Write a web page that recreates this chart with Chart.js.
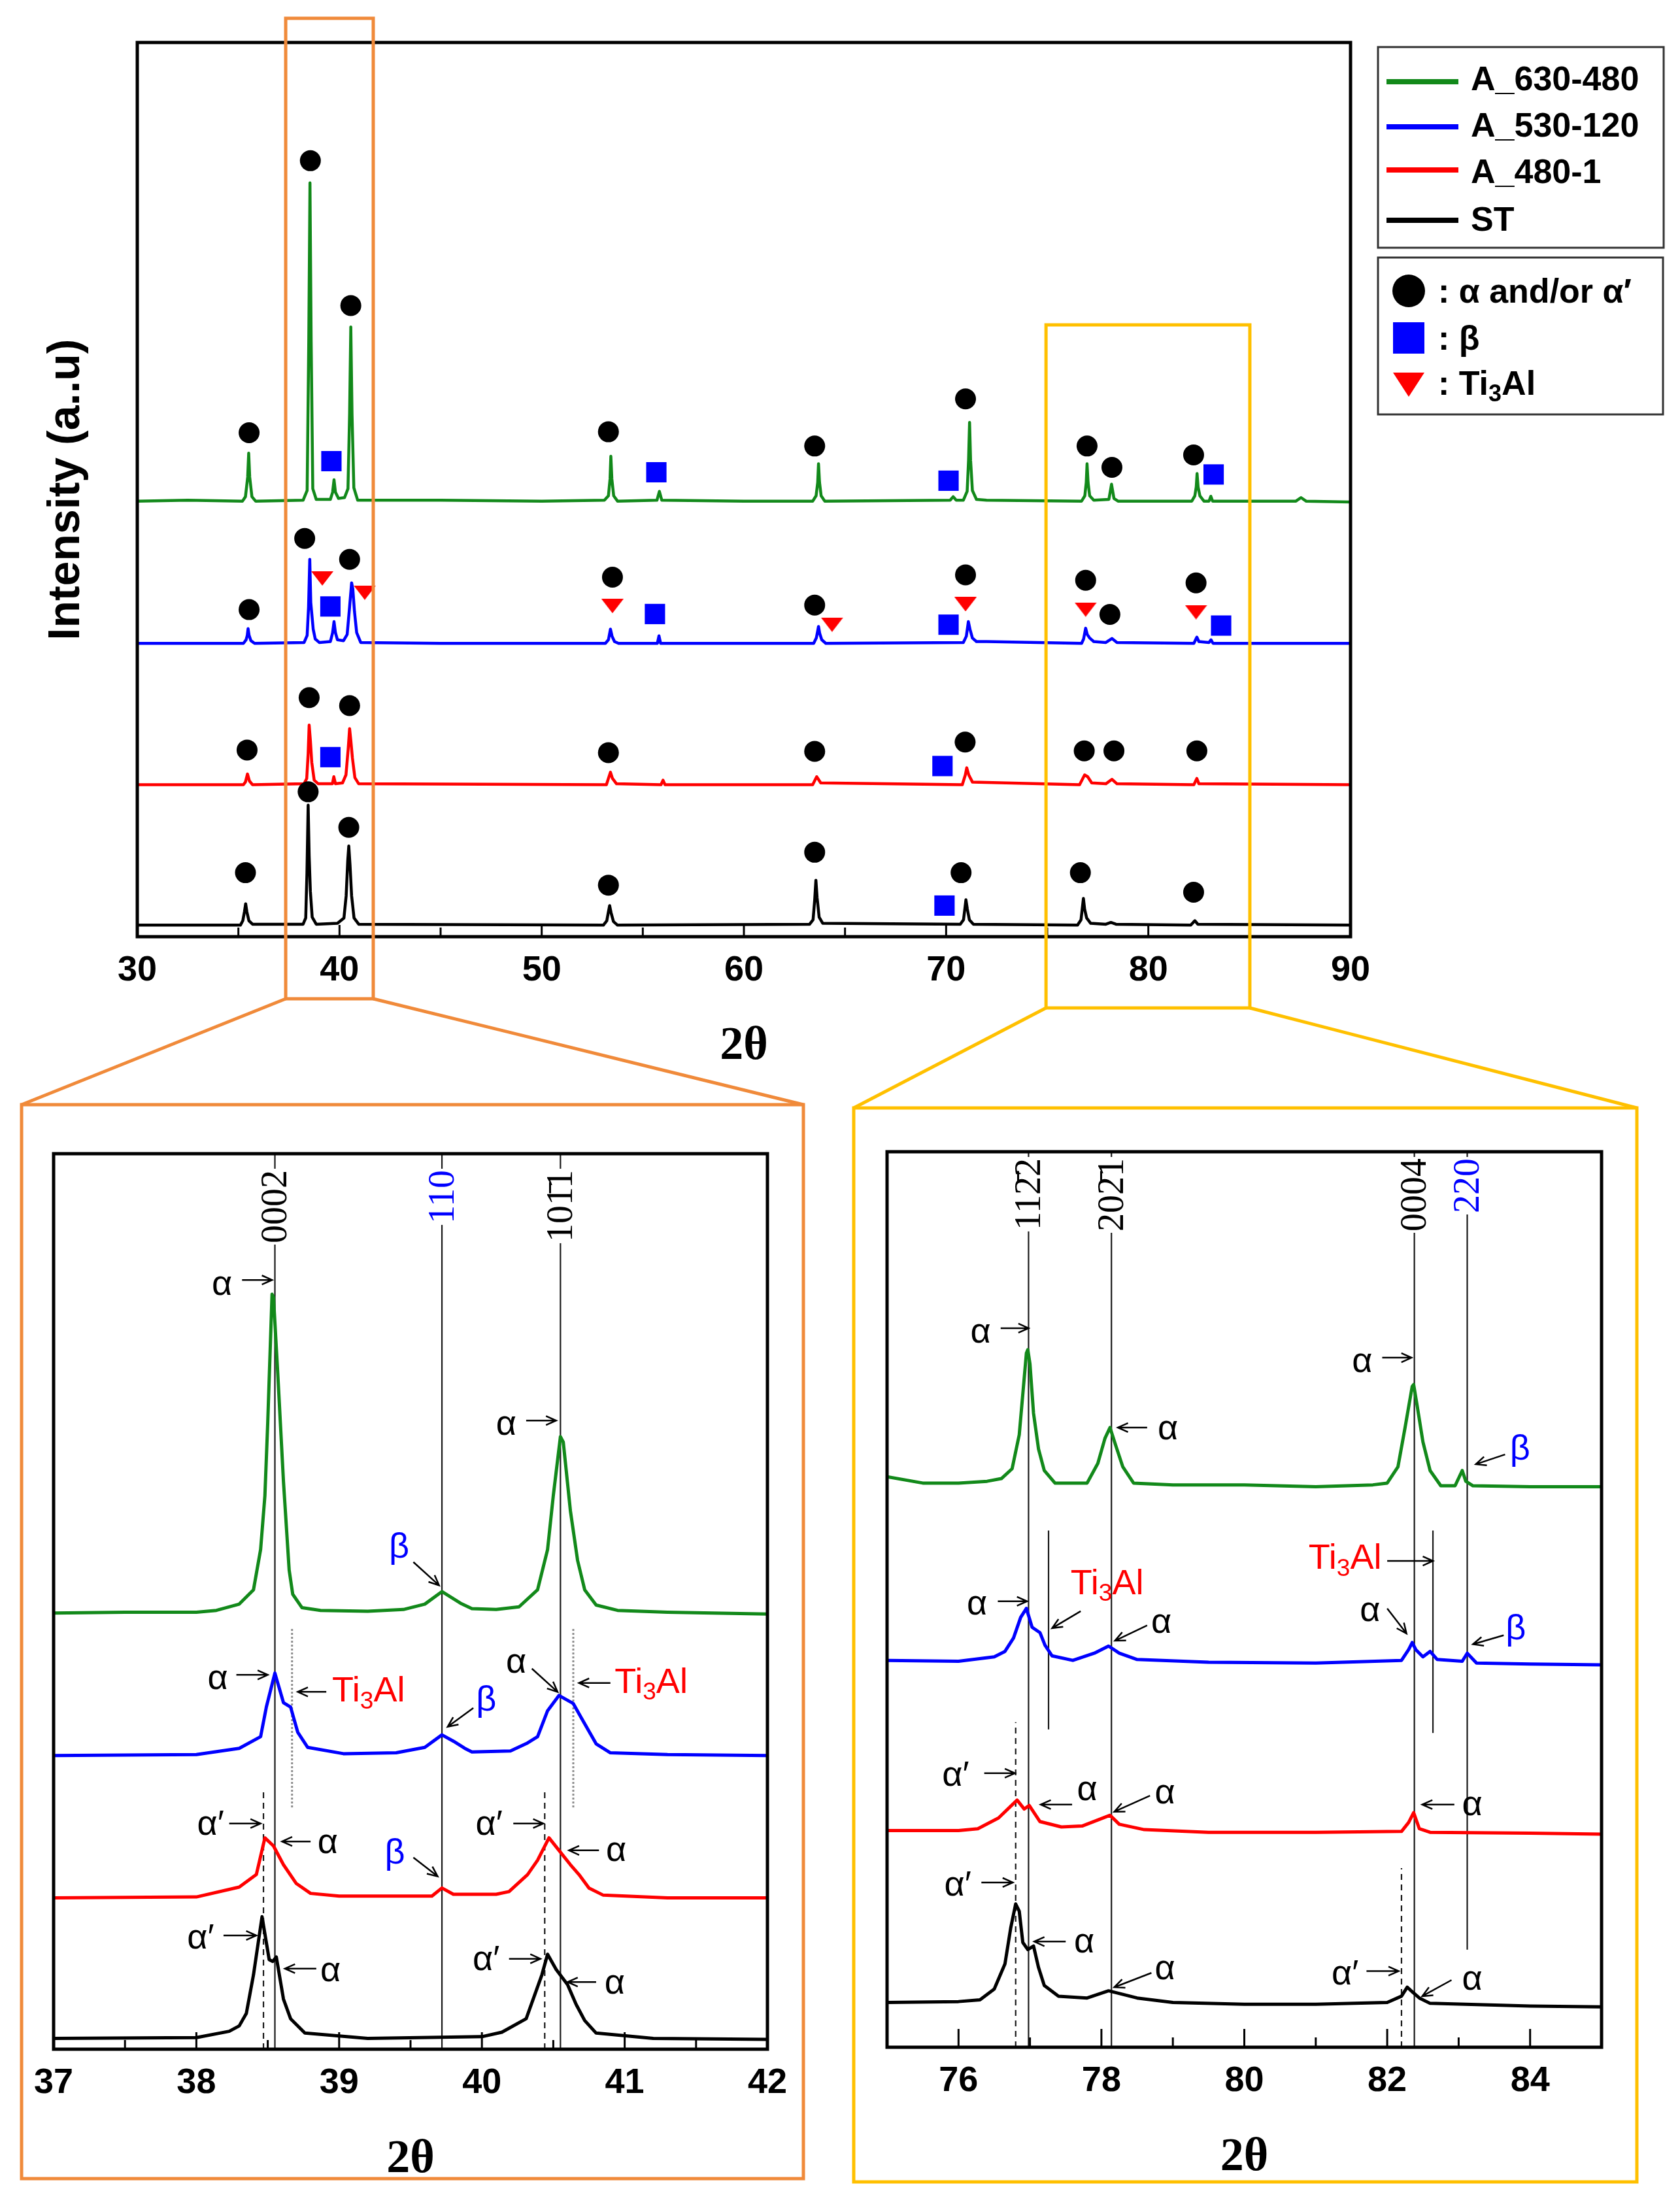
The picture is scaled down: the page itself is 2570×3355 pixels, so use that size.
<!DOCTYPE html>
<html>
<head>
<meta charset="utf-8">
<script src="https://cdn.jsdelivr.net/npm/chart.js"></script>
<style>
  body { margin: 0; background: #fff; }
  #fig { position: relative; width: 2570px; height: 3355px; overflow: hidden; background: #fff; }
  #fig canvas { position: absolute; }
  #overlay { position: absolute; left: 0; top: 0; pointer-events: none; }
  .lg { position: absolute; font: bold 52px "Liberation Sans", Arial, sans-serif; color: #000;
        line-height: 1; transform: translateY(-50%); white-space: nowrap; }
  .lg sub { font-size: 36px; vertical-align: -10px; }
</style>
</head>
<body>
<div id="fig">
  <canvas id="cMain" width="2100" height="1660" style="left:0px;top:0px"></canvas>
  <canvas id="cLeft" width="1250" height="1650" style="left:0px;top:1700px"></canvas>
  <canvas id="cRight" width="1250" height="1650" style="left:1290px;top:1700px"></canvas>
  <svg id="overlay" width="2570" height="3355"></svg>
  <div class="lg" style="left:2250px;top:120px">A_630-480</div>
  <div class="lg" style="left:2250px;top:191px">A_530-120</div>
  <div class="lg" style="left:2250px;top:262px">A_480-1</div>
  <div class="lg" style="left:2250px;top:335px">ST</div>
  <div class="lg" style="left:2200px;top:445px">: α and/or α′</div>
  <div class="lg" style="left:2200px;top:517px">: β</div>
  <div class="lg" style="left:2200px;top:590px">: Ti<sub>3</sub>Al</div>
</div>
<script>
// ---------- data ----------
// survey scan 30-90 deg, offsets already included
const mainGreen = [[30,48.4],[32.5,48.5],[35.2,48.4],
  [35.35,48.9],[35.46,51.1],[35.51,53.8],[35.56,51.1],[35.67,48.9],[35.85,48.4],
  [38.2,48.5],[38.4,49.6],[38.48,66.3],[38.54,84.2],[38.6,66.3],[38.68,49.8],[38.85,48.6],
  [39.55,48.6],[39.66,49.4],[39.73,50.8],[39.8,49.4],[39.95,48.7],
  [40.25,48.8],[40.42,49.8],[40.5,58.2],[40.56,68.0],[40.62,58.2],[40.71,49.9],[40.9,48.5],
  [45,48.5],[50,48.4],[53.1,48.5],
  [53.3,49.0],[53.38,50.9],[53.42,53.45],[53.47,50.9],[53.56,49.0],[53.75,48.4],
  [55.7,48.5],[55.82,49.5],[55.94,48.5],[60,48.4],[63.4,48.4],
  [63.57,49.0],[63.65,50.5],[63.69,52.6],[63.74,50.5],[63.82,49.0],[64.0,48.4],
  [70.2,48.5],[70.35,48.9],[70.5,48.5],[70.85,48.5],
  [71.04,49.5],[71.11,53.0],[71.16,57.25],[71.21,53.0],[71.3,49.6],[71.5,48.6],[72,48.5],
  [76.7,48.4],[76.86,49.0],[76.93,50.5],[76.97,52.6],[77.02,50.5],[77.1,49.0],
  [77.3,48.5],[78.05,48.6],[78.18,50.3],[78.3,48.7],[78.5,48.4],
  [82.15,48.4],[82.3,49.0],[82.37,50.0],[82.41,51.5],[82.46,50.0],[82.55,49.0],[82.75,48.4],
  [83.0,48.4],[83.09,48.95],[83.18,48.4],[87.3,48.4],[87.55,48.8],[87.8,48.4],[90,48.3]];
const mainBlue = [[30,32.4],[35.25,32.4],
  [35.38,32.8],[35.44,33.3],[35.48,34.05],[35.53,33.3],[35.62,32.7],[35.8,32.4],
  [38.25,32.5],[38.4,33.3],[38.47,36.5],[38.53,41.85],[38.58,37.0],[38.64,35.5],[38.7,34.0],[38.8,32.9],[39.0,32.5],
  [39.55,32.6],[39.66,33.6],[39.73,34.85],[39.8,33.6],[39.9,32.8],[40.2,32.7],
  [40.38,33.4],[40.5,36.5],[40.6,39.2],[40.66,38.5],[40.74,36.0],[40.85,33.6],[41.05,32.5],
  [45,32.4],[53.15,32.4],[53.3,32.8],[53.4,34.0],[53.48,33.2],[53.6,32.6],[53.8,32.4],
  [55.72,32.4],[55.8,33.25],[55.88,32.4],[63.45,32.4],
  [63.58,33.0],[63.65,33.8],[63.69,34.3],[63.75,33.5],[63.85,32.8],[64.05,32.4],
  [70.85,32.5],[71.0,33.2],[71.1,34.85],[71.18,34.0],[71.3,33.0],[71.5,32.6],[72,32.6],
  [76.7,32.4],[76.8,32.9],[76.9,34.1],[76.98,33.4],[77.1,33.0],[77.3,32.6],
  [77.9,32.5],[78.2,32.95],[78.45,32.5],[82.25,32.4],[82.4,33.1],[82.5,32.6],
  [83.0,32.5],[83.1,32.8],[83.2,32.4],[90,32.4]];
const mainRed = [[30,16.5],[35.25,16.5],[35.35,16.8],[35.45,17.7],[35.55,16.9],[35.7,16.5],
  [38.25,16.6],[38.38,17.2],[38.45,20.0],[38.5,23.2],[38.56,21.5],[38.63,19.0],[38.75,17.0],[38.95,16.6],
  [39.65,16.6],[39.72,17.4],[39.8,16.6],[40.15,16.7],
  [40.32,17.6],[40.43,20.5],[40.5,22.8],[40.56,21.5],[40.64,19.5],[40.76,17.3],[40.95,16.6],
  [53.2,16.5],[53.4,17.9],[53.5,17.2],[53.7,16.6],[55.9,16.5],[56.0,17.0],[56.1,16.5],
  [63.4,16.5],[63.6,17.4],[63.8,16.7],[70.8,16.5],[70.95,17.6],[71.02,18.4],[71.12,17.6],[71.3,16.8],
  [76.6,16.5],[76.85,17.6],[77.0,17.4],[77.2,16.7],[77.9,16.6],[78.2,17.1],[78.45,16.6],
  [82.25,16.5],[82.4,17.2],[82.5,16.6],[90,16.5]];
const mainBlack = [[30,0.7],[35.1,0.7],
  [35.22,1.2],[35.3,2.2],[35.36,3.1],[35.42,2.2],[35.52,1.2],[35.7,0.8],
  [38.2,0.8],[38.33,1.5],[38.39,6.5],[38.45,14.2],[38.5,8.5],[38.56,4.5],[38.65,1.6],[38.85,0.8],
  [39.9,0.9],[40.22,1.5],[40.33,4.0],[40.41,8.0],[40.46,9.6],[40.52,7.5],[40.6,4.0],[40.72,1.5],[40.95,0.8],
  [53.05,0.7],[53.22,1.2],[53.3,2.2],[53.36,2.9],[53.43,2.1],[53.55,1.1],[53.75,0.7],
  [63.25,0.8],[63.42,1.3],[63.5,3.5],[63.56,5.75],[63.62,3.8],[63.72,1.6],[63.9,0.9],
  [70.7,0.8],[70.86,1.3],[70.93,2.6],[70.98,3.55],[71.05,2.5],[71.15,1.3],[71.35,0.8],
  [76.5,0.7],[76.67,1.3],[76.74,2.7],[76.79,3.7],[76.85,2.5],[76.95,1.5],[77.15,0.9],
  [77.9,0.8],[78.15,1.0],[78.4,0.8],[82.1,0.7],[82.3,1.2],[82.45,0.8],[90,0.7]];

// phase markers on the survey scan
const mainCircles = [[35.53,56.1],[38.56,86.7],[40.56,70.4],[53.3,56.2],[63.5,54.6],[70.96,59.9],[76.97,54.6],[78.2,52.2],[82.24,53.6],
  [35.53,36.2],[38.28,44.2],[40.5,41.85],[53.5,39.85],[63.5,36.7],[70.96,40.1],[76.9,39.5],[78.1,35.65],[82.36,39.2],
  [35.43,20.4],[38.5,26.3],[40.5,25.4],[53.3,20.1],[63.5,20.25],[70.94,21.3],[76.83,20.3],[78.3,20.3],[82.4,20.3],
  [35.35,6.6],[38.45,15.7],[40.46,11.7],[53.3,5.2],[63.5,8.9],[70.74,6.6],[76.64,6.6],[82.24,4.4]];
const mainSquares = [[39.6,52.9],[55.67,51.65],[70.12,50.7],[83.23,51.4],
  [39.55,36.55],[55.6,35.7],[70.12,34.5],[83.6,34.4],[39.55,19.6],[69.82,18.6],[69.92,2.9]];
const mainTriangles = [[39.15,39.7],[41.25,38.1],[53.5,36.6],[64.36,34.5],[70.96,36.8],[76.9,36.2],[82.36,35.9]];

// zoom 37-42 deg
const leftGreen = [[37,48.7],[37.5,48.8],[38.0,48.8],[38.14,49.0],[38.3,49.7],[38.4,51.3],[38.45,55.8],[38.48,61.8],
  [38.5,70.0],[38.53,84.3],[38.54,84.0],[38.57,75.5],[38.61,63.4],[38.65,53.5],[38.675,50.8],[38.74,49.3],[38.87,49.0],
  [39.2,48.9],[39.45,49.1],[39.6,49.7],[39.72,51.1],[39.85,49.8],[39.93,49.2],[40.1,49.1],[40.26,49.4],[40.39,51.3],
  [40.46,55.8],[40.5,61.8],[40.55,68.4],[40.57,67.8],[40.62,60.1],[40.67,54.6],[40.72,51.3],[40.8,49.6],[40.95,49.0],
  [41.3,48.8],[42,48.6]];
const leftBlue = [[37,32.8],[38.0,32.9],[38.3,33.6],[38.45,34.9],[38.49,38.2],[38.55,42.0],[38.61,38.7],[38.66,38.2],
  [38.71,35.4],[38.78,33.7],[39.03,33.0],[39.4,33.1],[39.6,33.7],[39.72,35.1],[39.8,34.4],[39.88,33.6],[39.93,33.2],
  [40.2,33.3],[40.32,34.2],[40.39,34.9],[40.46,37.8],[40.54,39.5],[40.64,38.6],[40.7,36.9],[40.8,34.1],[40.9,33.1],
  [41.3,32.9],[42,32.8]];
const leftRed = [[37,16.9],[38.0,17.0],[38.3,18.1],[38.42,19.5],[38.48,23.6],[38.54,22.7],[38.61,20.6],[38.7,18.5],
  [38.8,17.4],[39.0,17.1],[39.65,17.1],[39.72,18.0],[39.8,17.3],[40.1,17.3],[40.19,17.6],[40.32,19.5],[40.39,21.1],
  [40.47,23.6],[40.54,22.2],[40.62,20.6],[40.68,19.5],[40.75,18.0],[40.85,17.2],[41.3,16.9],[42,16.9]];
const leftBlack = [[37,1.2],[38.0,1.3],[38.23,2.0],[38.3,2.6],[38.35,4.0],[38.4,8.3],[38.46,14.8],[38.51,10.0],
  [38.535,9.8],[38.56,10.3],[38.61,5.6],[38.66,3.4],[38.76,1.8],[39.2,1.2],[40.0,1.4],[40.14,1.9],[40.31,3.4],
  [40.42,8.3],[40.46,10.6],[40.52,8.9],[40.6,7.2],[40.66,5.0],[40.72,3.2],[40.8,1.8],[41.2,1.2],[42,1.1]];

// zoom 75-85 deg
const rightGreen = [[75,63.7],[75.5,63.0],[76.0,63.0],[76.4,63.2],[76.6,63.5],[76.75,64.6],[76.85,68.4],[76.95,77.5],
  [76.97,77.9],[77.0,76.3],[77.05,70.8],[77.12,66.8],[77.2,64.4],[77.35,63.0],[77.6,63.0],[77.8,63.0],[77.95,65.2],
  [78.05,68.0],[78.12,69.2],[78.2,67.2],[78.3,64.8],[78.45,63.0],[79,62.8],[80,62.8],[81,62.6],[81.8,62.8],[82.0,63.0],
  [82.15,64.8],[82.25,69.2],[82.35,73.8],[82.37,74.0],[82.42,71.6],[82.5,67.6],[82.6,64.4],[82.75,62.7],[82.95,62.7],
  [83.05,64.4],[83.1,63.2],[83.2,62.7],[84,62.6],[85,62.6]];
const rightBlue = [[75,43.2],[76,43.1],[76.5,43.6],[76.65,44.2],[76.77,45.7],[76.87,48.0],[76.95,49.0],[77.03,46.9],
  [77.14,46.3],[77.21,44.9],[77.31,43.7],[77.6,43.2],[77.9,44.0],[78.1,44.8],[78.25,44.0],[78.5,43.3],[79.5,43.0],
  [81,42.9],[82.2,43.2],[82.3,44.4],[82.35,45.2],[82.4,44.4],[82.5,43.6],[82.6,44.2],[82.7,43.3],[83.05,43.1],
  [83.12,44.0],[83.25,42.9],[84,42.8],[85,42.7]];
const rightRed = [[75,24.2],[76,24.2],[76.27,24.4],[76.56,25.6],[76.82,27.6],[76.92,26.6],[76.99,27.0],[77.14,25.2],
  [77.44,24.6],[77.73,24.7],[78.12,25.9],[78.25,24.9],[78.6,24.3],[79.5,24.0],[81,24.0],[82.2,24.1],
  [82.3,25.1],[82.37,26.2],[82.45,24.4],[82.6,24.0],[84,23.9],[85,23.8]];
const rightBlack = [[75,5.0],[76,5.1],[76.3,5.3],[76.5,6.5],[76.65,9.3],[76.73,13.3],[76.8,16.0],[76.85,15.2],
  [76.9,11.7],[76.97,10.9],[77.05,11.3],[77.12,8.9],[77.2,6.9],[77.4,5.7],[77.8,5.5],[78.1,6.3],[78.5,5.5],[79,5.0],
  [80,4.8],[81,4.8],[82.0,5.0],[82.2,5.7],[82.28,6.7],[82.35,6.2],[82.45,5.5],[82.6,4.9],[84,4.6],[85,4.5]];

// reflection labels and reference lines of the zooms
const leftPlanes = [['0002',38.55,'k'],['110',39.72,'b'],['101\u03041',40.55,'k']];
const rightPlanes = [['112\u03042',76.98,'k'],['202\u03041',78.14,'k'],['0004',82.38,'k'],['220',83.12,'b']];
const leftLines = [[38.55,0,100,'solid'],[39.72,0,100,'solid'],[40.55,0,100,'solid'],
  [38.47,0,29,'dash'],[40.44,0,29,'dash'],[38.67,27,47,'dot'],[40.64,27,47,'dot']];
const rightLines = [[76.98,0,100,'solid'],[78.14,0,100,'solid'],[82.38,0,100,'solid'],[83.12,10.9,100,'solid'],
  [76.8,0,36.3,'dash'],[82.2,0,20,'dash'],[77.26,35.5,57.7,'solid'],[82.64,35.1,57.7,'solid']];
const leftNotes = [['α',38.18,85.3,'k'],['α',40.17,69.7,'k'],['β',39.42,56.0,'b'],
  ['α',38.15,41.3,'k'],['Ti_3Al',38.95,39.9,'r','left'],['β',40.03,38.9,'b'],['α',40.24,43.1,'k'],['Ti_3Al',40.93,40.9,'r','left'],
  ['α′',38.1,25.0,'k'],['α',38.92,23.0,'k'],['β',39.39,21.8,'b'],['α′',40.05,25.0,'k'],['α',40.94,22.1,'k'],
  ['α′',38.03,12.3,'k'],['α',38.94,8.7,'k'],['α′',40.03,9.9,'k'],['α',40.93,7.3,'k']];
const leftArrows = [[38.32,85.9,38.53,85.9],[40.31,70.2,40.52,70.2],[39.52,54.4,39.70,51.8],[38.28,41.8,38.5,41.8],
  [38.91,39.9,38.71,39.9],[39.94,38.1,39.76,36.0],[40.35,42.5,40.53,39.9],[40.9,40.9,40.68,40.9],
  [38.23,25.2,38.45,25.2],[38.8,23.2,38.6,23.2],[39.52,21.4,39.69,19.3],[40.22,25.2,40.43,25.2],[40.82,22.2,40.61,22.2],
  [38.19,12.7,38.42,12.7],[38.84,9.0,38.62,9.0],[40.19,10.1,40.41,10.1],[40.8,7.5,40.6,7.5]];
const rightNotes = [['α',76.31,79.8,'k'],['α',78.93,69.0,'k'],['α',81.65,76.5,'k'],['β',83.86,66.7,'b'],['Ti_3Al',81.41,54.5,'r'],
  ['α',76.26,49.4,'k'],['Ti_3Al',78.08,51.7,'r'],['α',78.84,47.4,'k'],['α',81.76,48.7,'k'],['β',83.8,46.6,'b'],
  ['α′',75.96,30.3,'k'],['α',77.8,28.7,'k'],['α',78.89,28.3,'k'],['α',83.19,27.0,'k'],
  ['α′',75.99,18.0,'k'],['α',77.76,11.7,'k'],['α',78.89,8.7,'k'],['α′',81.41,8.1,'k'],['α',83.19,7.5,'k']];
const rightArrows = [[76.59,80.3,76.98,80.3],[78.64,69.2,78.23,69.2],[81.93,77.0,82.34,77.0],[83.65,66.2,83.24,65.1],
  [82.0,54.3,82.64,54.3],[76.55,49.8,76.96,49.8],[77.71,48.7,77.31,46.8],[78.64,47.1,78.19,45.4],[82.0,49.0,82.27,46.2],
  [83.63,46.0,83.2,45.0],[76.36,30.6,76.79,30.6],[77.59,27.1,77.15,27.1],[78.68,28.1,78.18,26.3],[82.94,27.1,82.49,27.1],
  [76.32,18.4,76.76,18.4],[77.5,11.8,77.06,11.8],[78.7,8.3,78.18,6.7],[81.71,8.5,82.16,8.5],[82.9,7.5,82.49,5.7]];

// ---------- styling ----------
const GREEN = '#12891a', BLUE = '#0000ff', RED = '#ff0000', BLACK = '#000000';
const COL = { k: '#000', b: BLUE, r: RED };
const SANS = '"Liberation Sans", Arial, sans-serif';
const SERIF = '"Liberation Serif", "Times New Roman", serif';
const ORANGE = '#f08a3a', GOLD = '#ffc000';

function pts(arr) { return arr.map(([x, y]) => ({ x, y })); }

function lineSet(arr, color, w) {
  return { data: pts(arr), borderColor: color, borderWidth: w, pointRadius: 0, tension: 0,
           fill: false, order: 10, borderJoinStyle: 'round' };
}

function markerSet(arr, style, r, color) {
  return { data: pts(arr), showLine: false, pointStyle: style, pointRadius: r, pointBorderWidth: 0,
           pointBackgroundColor: color, borderColor: color, order: 0 };
}

function triImg(w, h, color) {
  const c = document.createElement('canvas');
  c.width = w; c.height = h;
  const g = c.getContext('2d');
  g.fillStyle = color;
  g.beginPath(); g.moveTo(0, 0); g.lineTo(w, 0); g.lineTo(w / 2, h); g.closePath(); g.fill();
  return c;
}

// text with "_3" style subscripts
function drawRich(ctx, str, x, y, align, size, color) {
  const parts = str.split(/_(\d)/);
  const segs = parts.map((p, i) => ({ p, sub: i % 2 === 1 }));
  let w = 0;
  segs.forEach(s => {
    ctx.font = (s.sub ? Math.round(size * 0.68) : size) + 'px ' + SANS;
    s.w = ctx.measureText(s.p).width; w += s.w;
  });
  let cx = align === 'left' ? x : align === 'right' ? x - w : x - w / 2;
  ctx.fillStyle = color; ctx.textAlign = 'left'; ctx.textBaseline = 'middle';
  segs.forEach(s => {
    ctx.font = (s.sub ? Math.round(size * 0.68) : size) + 'px ' + SANS;
    ctx.fillText(s.p, cx, s.sub ? y + size * 0.28 : y);
    cx += s.w;
  });
}

function arrow(ctx, x1, y1, x2, y2) {
  const a = Math.atan2(y2 - y1, x2 - x1), L = 17, s = 0.42;
  ctx.beginPath();
  ctx.moveTo(x1, y1); ctx.lineTo(x2, y2);
  ctx.moveTo(x2 - L * Math.cos(a - s), y2 - L * Math.sin(a - s)); ctx.lineTo(x2, y2);
  ctx.lineTo(x2 - L * Math.cos(a + s), y2 - L * Math.sin(a + s));
  ctx.stroke();
}

// frame, inward ticks, reference lines, labels
function makeDecor(cfg) {
  return {
    id: 'decor',
    beforeDatasetsDraw(chart) {
      const { ctx } = chart, xs = chart.scales.x, ys = chart.scales.y;
      (cfg.lines || []).forEach(([v, y0, y1, kind]) => {
        const x = xs.getPixelForValue(v);
        ctx.save();
        ctx.strokeStyle = kind === 'dot' ? '#8a8a8a' : '#1a1a1a';
        ctx.lineWidth = kind === 'dot' ? 3 : 2.2;
        ctx.setLineDash(kind === 'dash' ? [9, 7] : kind === 'dot' ? [3, 3] : []);
        ctx.beginPath(); ctx.moveTo(x, ys.getPixelForValue(y0)); ctx.lineTo(x, ys.getPixelForValue(y1)); ctx.stroke();
        ctx.restore();
      });
    },
    afterDatasetsDraw(chart) {
      const { ctx, chartArea: a } = chart, xs = chart.scales.x, ys = chart.scales.y;
      ctx.save();
      // plane labels, rotated, with a white box over the line
      (cfg.planes || []).forEach(([t, v, c]) => {
        const x = xs.getPixelForValue(v);
        ctx.save();
        ctx.font = '56px ' + SERIF;
        const w = ctx.measureText(t).width;
        ctx.translate(x, a.top + cfg.planeTop);
        ctx.rotate(-Math.PI / 2);
        ctx.fillStyle = '#fff';
        ctx.fillRect(-w - 2, -20, w + 4, 40);
        ctx.fillStyle = COL[c];
        ctx.textAlign = 'right'; ctx.textBaseline = 'middle';
        ctx.fillText(t, 0, 3);
        ctx.restore();
      });
      ctx.strokeStyle = '#000'; ctx.lineWidth = 2.5;
      (cfg.arrows || []).forEach(([x1, y1, x2, y2]) =>
        arrow(ctx, xs.getPixelForValue(x1), ys.getPixelForValue(y1), xs.getPixelForValue(x2), ys.getPixelForValue(y2)));
      (cfg.notes || []).forEach(([t, x, y, c, al]) =>
        drawRich(ctx, t, xs.getPixelForValue(x), ys.getPixelForValue(y), al || 'center', 54, COL[c]));
      // inward tick marks at every scale tick
      ctx.strokeStyle = '#000'; ctx.lineWidth = 3;
      xs.ticks.forEach(t => {
        const x = xs.getPixelForValue(t.value);
        const len = t.label !== '' ? cfg.major : cfg.minor;
        ctx.beginPath(); ctx.moveTo(x, a.bottom); ctx.lineTo(x, a.bottom - len); ctx.stroke();
      });
      ctx.lineWidth = 5;
      ctx.strokeRect(a.left, a.top, a.right - a.left, a.bottom - a.top);
      ctx.restore();
    }
  };
}

function xAxis(min, max, step, show, h, titlePad) {
  return {
    type: 'linear', min, max,
    grid: { display: false, drawTicks: false }, border: { display: false },
    ticks: { stepSize: step, autoSkip: false, maxRotation: 0, padding: 20, color: '#000',
             font: { family: SANS, size: 54, weight: 'bold' }, callback: v => show(v) ? v : '' },
    title: { display: true, text: '2θ', color: '#000', font: { family: SERIF, size: 72, weight: 'bold' },
             padding: { top: 0, bottom: titlePad } },
    afterFit: s => { s.height = h; s.paddingLeft = 0; s.paddingRight = 0; }
  };
}

const base = { responsive: false, animation: false, devicePixelRatio: 1,
               plugins: { legend: { display: false }, tooltip: { enabled: false } } };

// ---------- survey scan ----------
const mainChart = new Chart(document.getElementById('cMain'), {
  type: 'line',
  data: { datasets: [
    markerSet(mainCircles, 'circle', 16, BLACK),
    markerSet(mainSquares, 'rect', 22, BLUE),
    markerSet(mainTriangles, triImg(34, 22, RED), 11, RED),
    lineSet(mainGreen, GREEN, 4.5), lineSet(mainBlue, BLUE, 4.5), lineSet(mainRed, RED, 4.5), lineSet(mainBlack, BLACK, 4.5)
  ] },
  options: Object.assign({}, base, {
    layout: { padding: { left: 0, top: 65, right: 34, bottom: 0 } },
    scales: {
      x: xAxis(30, 90, 5, v => v % 10 === 0, 227, 15),
      y: { min: -0.6, max: 100, grid: { display: false }, border: { display: false }, ticks: { display: false },
           title: { display: true, text: 'Intensity (a..u)', color: '#000',
                    font: { family: SANS, size: 68, weight: 'bold' }, padding: { top: 61, bottom: 0 } },
           afterFit: s => { s.width = 210; } }
    }
  }),
  plugins: [makeDecor({ major: 18, minor: 14 })]
});

// ---------- zoom 37-42 ----------
new Chart(document.getElementById('cLeft'), {
  type: 'line',
  data: { datasets: [lineSet(leftGreen, GREEN, 5), lineSet(leftBlue, BLUE, 5), lineSet(leftRed, RED, 5), lineSet(leftBlack, BLACK, 5)] },
  options: Object.assign({}, base, {
    layout: { padding: { left: 82, top: 65, right: 76, bottom: 0 } },
    scales: {
      x: xAxis(37, 42, 0.5, v => Number.isInteger(v), 215, 2),
      y: { display: false, min: 0, max: 100 }
    }
  }),
  plugins: [makeDecor({ major: 26, minor: 14, planes: leftPlanes, planeTop: 25, lines: leftLines, notes: leftNotes, arrows: leftArrows })]
});

// ---------- zoom 75-85 ----------
new Chart(document.getElementById('cRight'), {
  type: 'line',
  data: { datasets: [lineSet(rightGreen, GREEN, 5), lineSet(rightBlue, BLUE, 5), lineSet(rightRed, RED, 5), lineSet(rightBlack, BLACK, 5)] },
  options: Object.assign({}, base, {
    layout: { padding: { left: 67, top: 62, right: 90, bottom: 0 } },
    scales: {
      x: xAxis(75, 85, 1, v => v % 2 === 0, 218, 5),
      y: { display: false, min: 0, max: 100 }
    }
  }),
  plugins: [makeDecor({ major: 28, minor: 15, planes: rightPlanes, planeTop: 10, lines: rightLines, notes: rightNotes, arrows: rightArrows })]
});

// ---------- zoom frames, connectors and legend boxes ----------
(function () {
  const xs = mainChart.scales.x;
  const oL = xs.getPixelForValue(37.34), oR = xs.getPixelForValue(41.67);
  const yL = xs.getPixelForValue(74.94), yR = xs.getPixelForValue(85.02);
  const svg = document.getElementById('overlay');
  svg.innerHTML = `
    <g fill="none" stroke-width="5">
      <rect x="${oL}" y="28" width="${oR - oL}" height="1500" stroke="${ORANGE}"/>
      <polyline points="${oL},1528 33,1690" stroke="${ORANGE}"/>
      <polyline points="${oR},1528 1229,1690" stroke="${ORANGE}"/>
      <rect x="33" y="1690" width="1196" height="1643" stroke="${ORANGE}"/>
      <rect x="${yL}" y="497" width="${yR - yL}" height="1045" stroke="${GOLD}"/>
      <polyline points="${yL},1542 1306,1695" stroke="${GOLD}"/>
      <polyline points="${yR},1542 2504,1695" stroke="${GOLD}"/>
      <rect x="1306" y="1695" width="1198" height="1643" stroke="${GOLD}"/>
    </g>
    <rect x="2108" y="72" width="437" height="307" fill="#fff" stroke="#333" stroke-width="3"/>
    <rect x="2108" y="394" width="436" height="240" fill="#fff" stroke="#333" stroke-width="3"/>
    <g stroke-width="8">
      <line x1="2121" x2="2231" y1="125" y2="125" stroke="${GREEN}"/>
      <line x1="2121" x2="2231" y1="194" y2="194" stroke="${BLUE}"/>
      <line x1="2121" x2="2231" y1="260" y2="260" stroke="${RED}"/>
      <line x1="2121" x2="2231" y1="337" y2="337" stroke="${BLACK}"/>
    </g>
    <circle cx="2155" cy="445" r="25" fill="#000"/>
    <rect x="2131" y="493" width="48" height="48" fill="${BLUE}"/>
    <polygon points="2131,570 2179,570 2155,607" fill="${RED}"/>`;
})();
</script>
</body>
</html>
